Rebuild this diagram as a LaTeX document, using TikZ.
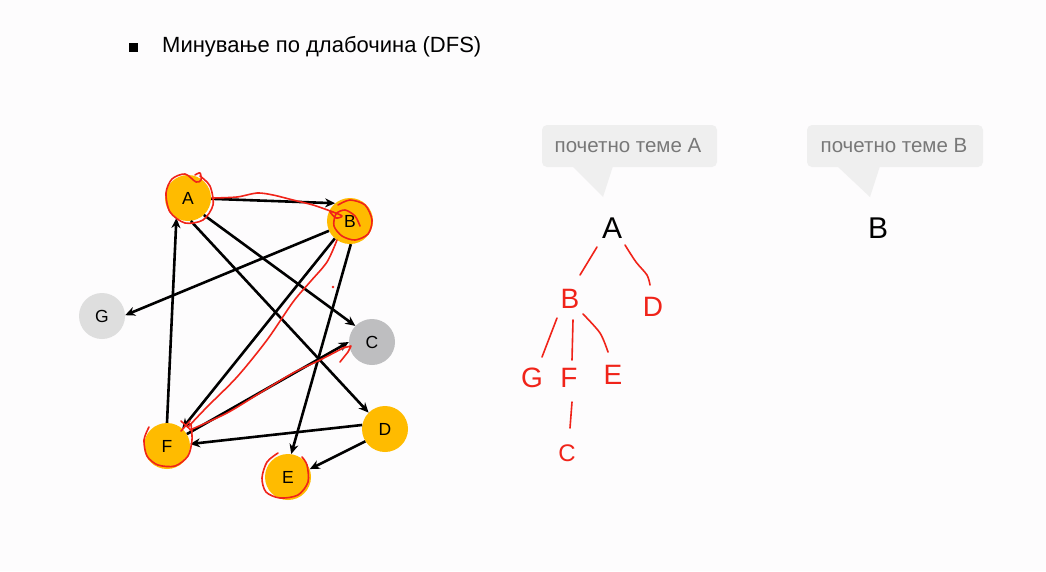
\documentclass[tikz,border=0pt]{standalone}
\usepackage{fontspec}
\setmainfont{Liberation Sans}
\usetikzlibrary{arrows.meta}
\definecolor{bg}{RGB}{253,252,253}
\definecolor{vis}{RGB}{255,187,0}
\definecolor{lightg}{RGB}{222,222,222}
\definecolor{midg}{RGB}{190,190,192}
\definecolor{pen}{RGB}{240,35,25}
\definecolor{bubble}{RGB}{239,239,239}
\definecolor{bubbletext}{RGB}{120,120,120}
\tikzset{
  vertex/.style={circle, minimum size=46pt, inner sep=0pt, font=\fontsize{17.5}{19}\selectfont},
  edge/.style={line width=2.6pt, -{Stealth[length=10pt,width=9pt]}},
  ink/.style={pen, line width=1.6pt, line cap=round, line join=round},
  hand/.style={text=pen, font=\fontsize{28}{30}\selectfont, inner sep=0pt},
  callout/.style={fill=bubble, rounded corners=5pt},
  calltext/.style={text=bubbletext, font=\fontsize{20.5}{22}\selectfont, inner sep=0pt},
}
\begin{document}
\begin{tikzpicture}[x=1pt,y=-1pt]
\fill[bg] (0,0) rectangle (1046,571);
\useasboundingbox (0,0) rectangle (1046,571);

% heading
\node[fill=black, minimum size=9pt, inner sep=0pt] (bullet) at (133,47) {};
\node[anchor=west, inner sep=0pt, font=\fontsize{22}{26}\selectfont] (title) at (162,47) {Минување по длабочина (DFS)};

% graph vertices
\node[vertex, fill=vis]    (A) at (188,198) {A};
\node[vertex, fill=vis]    (B) at (350,221) {B};
\node[vertex, fill=lightg] (G) at (102,316) {G};
\node[vertex, fill=midg]   (C) at (372,342) {C};
\node[vertex, fill=vis]    (D) at (385,429) {D};
\node[vertex, fill=vis]    (F) at (167,446) {F};
\node[vertex, fill=vis]    (E) at (288,477) {E};

% directed edges
\draw[edge] (A.-2)   -- (B.130);
\draw[edge] (B.205)  -- (G.2);
\draw[edge] (A.-47)  -- (C.136);
\draw[edge] (A.-83)  -- (D.135);
\draw[edge] (B.229)  -- (F.49);
\draw[edge] (B.-88)  -- (E.82);
\draw[edge] (F.90)   -- (A.240);
\draw[edge] (F.31)   -- (C.180);
\draw[edge] (D.170)  -- (F.5);
\draw[edge] (D.212)  -- (E.20);

% pen marks over the graph
\draw[ink] plot[smooth] coordinates {(195,175) (200,173) (201,180) (196,182) (185,174) (172,179) (166,193) (170,212) (185,223) (203,220) (213,205) (210,186) (200,176)};
\draw[ink] plot[smooth] coordinates {(212,198) (237,197) (257,193) (273,195) (293,200) (313,205) (333,212) (342,216) (336,218) (330,212)};
\draw[ink] plot[smooth] coordinates {(338,205) (350,200) (365,205) (372,220) (368,234) (355,240) (342,236) (334,226) (336,214) (345,210) (355,216) (360,226)};
\draw[ink] plot[smooth] coordinates {(337,240) (327,262) (310,282) (293,302) (267,340) (237,377) (207,407) (188,427)};
\draw[ink] (181,421) -- (192,431) (181,431) -- (190,421);
\fill[pen] (333,287) circle (1.3pt);
\draw[ink] plot[smooth] coordinates {(190,430) (227,413) (260,393) (293,373) (320,360) (345,347)};
\draw[ink] (340,362) -- (348,352) -- (351,346) -- (343,348);
\draw[ink] plot[smooth] coordinates {(149,427) (144,440) (147,456) (158,465) (175,466) (188,456) (192,440) (191,424)};
\draw[ink] plot[smooth] coordinates {(278,453) (267,462) (262,478) (266,492) (280,498) (298,495) (308,482) (307,465) (302,457)};

% speech bubbles
\fill[callout] (542,125) rectangle (717,167);
\fill[bubble] (572,166) -- (603,197) -- (613,166) -- cycle;
\node[calltext] (labA) at (628,146) {почетно теме A};
\fill[callout] (807,125) rectangle (983,167);
\fill[bubble] (837,166) -- (870,197) -- (880,166) -- cycle;
\node[calltext] (labB) at (894,146) {почетно теме B};

% traversal roots
\node[font=\fontsize{30}{32}\selectfont, inner sep=0pt] (rootA) at (612,228) {A};
\node[font=\fontsize{30}{32}\selectfont, inner sep=0pt] (rootB) at (878,228) {B};

% handwritten tree for the walk from A
\node[hand] (tB) at (570,299) {B};
\node[hand] (tD) at (653,307) {D};
\node[hand] (tG) at (532,378) {G};
\node[hand] (tF) at (569,378) {F};
\node[hand] (tE) at (613,375) {E};
\node[hand, font=\fontsize{24}{26}\selectfont] (tC) at (567,453) {C};
\draw[ink] (597,247) -- (580,275);
\draw[ink] plot[smooth] coordinates {(625,245) (636,262) (647,275) (650,285)};
\draw[ink] (557,318) -- (542,357);
\draw[ink] (573,320) -- (572,360);
\draw[ink] plot[smooth] coordinates {(583,314) (600,333) (608,352)};
\draw[ink] (572,402) -- (570,428);
\end{tikzpicture}
\end{document}
